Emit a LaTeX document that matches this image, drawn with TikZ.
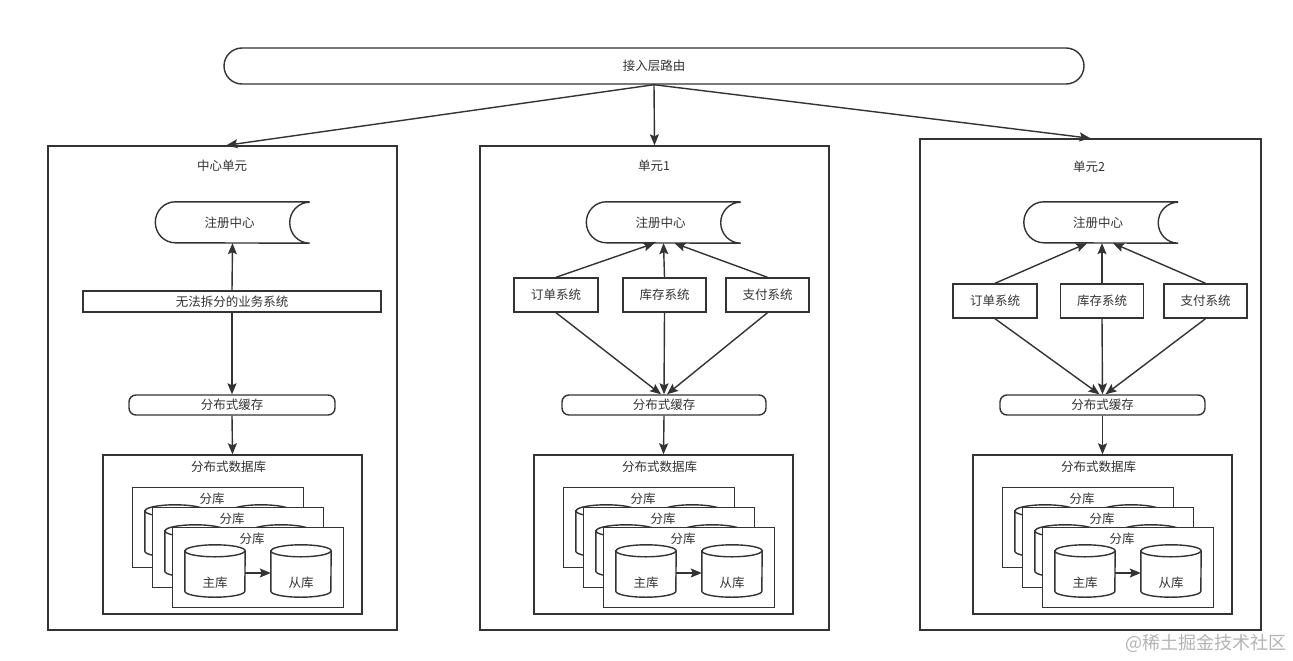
\documentclass[tikz,border=0pt]{standalone}
\usepackage{fontspec}
\setmainfont{Noto Sans CJK SC}
\usetikzlibrary{arrows.meta,calc}
\definecolor{ln}{HTML}{333333}
\definecolor{wm}{HTML}{B4B4B4}
\tikzset{
  base/.style={draw=ln, line width=1.4pt, fill=white, inner sep=0pt, font=\fontsize{12.5}{15}\selectfont, text=ln},
  box/.style={base, rectangle},
  rbox/.style={base, rectangle, rounded corners=7pt},
  sysbox/.style={box, minimum width=84pt, minimum height=34pt},
  regnode/.style={rectangle, inner sep=0pt, minimum width=154pt, minimum height=41pt, font=\fontsize{12.5}{15}\selectfont, text=ln},
  cylnode/.style={rectangle, inner sep=0pt, minimum width=60pt, minimum height=52pt},
  txt/.style={inner sep=0pt, font=\fontsize{12.5}{15}\selectfont, text=ln},
  cylst/.style={draw=ln, line width=1.4pt, fill=white},
  arr/.style={draw=ln, line width=1.4pt, -{Stealth[length=11pt,width=9pt,inset=2pt]}, fill=none},
}
\newcommand\regpath[1]{%
  \draw[draw=ln, line width=1.4pt] (#1.north east) -- ([xshift=20pt]#1.north west)
    arc[start angle=90,end angle=270,x radius=20pt,y radius=20.5pt] -- (#1.south east)
    arc[start angle=270,end angle=90,x radius=20pt,y radius=20.5pt];}
\newcommand\cylpath[1]{%
  \draw[cylst] ([yshift=-6pt]#1.north west) -- ([yshift=6pt]#1.south west)
    arc[start angle=180,end angle=360,x radius=30pt,y radius=6pt] -- ([yshift=-6pt]#1.north east)
    arc[start angle=0,end angle=180,x radius=30pt,y radius=6pt] -- cycle;
  \draw[draw=ln, line width=1.4pt] ([yshift=-6pt]#1.north west)
    arc[start angle=180,end angle=360,x radius=30pt,y radius=6pt];}
\newcommand\dbsection[2]{%
  \node[box, minimum width=259pt, minimum height=159pt] (db#2) at (#1,534.5) {};
  \node[txt] (dbt#2) at ($(#1,467)+(-4,0)$) {分布式数据库};
  \foreach \k in {0,1,2}{
    \pgfmathsetmacro\bx{#1-100.5+20*\k}
    \pgfmathsetmacro\by{487+20*\k}
    \node[box, minimum width=171pt, minimum height=80pt, anchor=north west] (fk#2\k) at (\bx,\by) {};
    \node[txt] (fkt#2\k) at ($(fk#2\k.north west)+(80,12)$) {分库};
    \node[cylnode] (ma#2\k) at ($(fk#2\k.north west)+(43,44)$) {};
    \cylpath{ma#2\k}
    \node[cylnode] (sl#2\k) at ($(fk#2\k.north west)+(129,44)$) {};
    \cylpath{sl#2\k}
    \draw[arr] ([yshift=-2pt]ma#2\k.east) -- ([yshift=-2pt]sl#2\k.west);
  }
  \node[txt] (mat#2) at ($(ma#22.center)+(0,12)$) {主库};
  \node[txt] (slt#2) at ($(sl#22.center)+(0,12)$) {从库};
}
\begin{document}
\begin{tikzpicture}[x=1pt,y=-1pt]
\useasboundingbox (0,0) rectangle (1293,661);
\fill[white] (0,0) rectangle (1293,661);

% top routing bar
\node[base, rounded corners=18pt, minimum width=860pt, minimum height=36pt] (top) at (654,66) {接入层路由};

% unit boxes
\node[box, minimum width=349pt, minimum height=484pt] (u0) at (222.5,388) {};
\node[box, minimum width=349pt, minimum height=484pt] (u1) at (654.5,388) {};
\node[box, minimum width=341pt, minimum height=491pt] (u2) at (1090.5,384.5) {};
\node[txt] (t0) at (222,166) {中心单元};
\node[txt] (t1) at (654,166) {单元1};
\node[txt] (t2) at (1089,167) {单元2};

\draw[arr] (top.south) -- ([xshift=4pt]u0.north);
\draw[arr] (top.south) -- (u1.north);
\draw[arr] (top.south) -- (u2.north);

% ---------- central unit ----------
\node[regnode] (reg0) at (232.5,222.5) {\hspace*{-6pt}注册中心};
\regpath{reg0}
\node[box, minimum width=298pt, minimum height=21pt] (biz0) at (232,301.5) {无法拆分的业务系统};
\node[rbox, minimum width=206pt, minimum height=20pt] (cache0) at (232,405) {分布式缓存};
\draw[arr] (biz0.north) -- (reg0.south);
\draw[arr] (biz0.south) -- (cache0.north);
\dbsection{232.5}{0}
\draw[arr] (cache0.south) -- (db0.north);

% ---------- unit 1 ----------
\node[regnode] (reg1) at (663.5,222.5) {\hspace*{-6pt}注册中心};
\regpath{reg1}
\node[sysbox] (o1) at (556,295) {订单系统};
\node[sysbox, minimum width=83pt] (s1) at (664.5,295) {库存系统};
\node[sysbox, minimum width=83pt] (p1) at (767.5,295) {支付系统};
\node[rbox, minimum width=204pt, minimum height=20pt] (cache1) at (664,405) {分布式缓存};
\draw[arr] (o1.north) -- ([xshift=-9pt]reg1.south);
\draw[arr] (s1.north) -- ([xshift=0pt]reg1.south);
\draw[arr] (p1.north) -- ([xshift=11pt]reg1.south);
\draw[arr] (o1.south) -- ([xshift=-3pt]cache1.north);
\draw[arr] (s1.south) -- ([xshift=0pt]cache1.north);
\draw[arr] (p1.south) -- ([xshift=3pt]cache1.north);
\dbsection{663.5}{1}
\draw[arr] (cache1.south) -- (db1.north);

% ---------- unit 2 ----------
\node[regnode] (reg2) at (1101,222.5) {\hspace*{-6pt}注册中心};
\regpath{reg2}
\node[sysbox] (o2) at (995,301) {订单系统};
\node[sysbox, minimum width=83pt] (s2) at (1102,301) {库存系统};
\node[sysbox, minimum width=83pt] (p2) at (1205.5,301) {支付系统};
\node[rbox, minimum width=205pt, minimum height=20pt] (cache2) at (1102.5,405) {分布式缓存};
\draw[arr] (o2.north) -- ([xshift=-14pt]reg2.south);
\draw[arr] (s2.north) -- ([xshift=1pt]reg2.south);
\draw[arr] (p2.north) -- ([xshift=12pt]reg2.south);
\draw[arr] (o2.south) -- ([xshift=-3pt]cache2.north);
\draw[arr] (s2.south) -- ([xshift=0pt]cache2.north);
\draw[arr] (p2.south) -- ([xshift=3pt]cache2.north);
\dbsection{1102.5}{2}
\draw[arr] (cache2.south) -- (db2.north);

% watermark
\node[inner sep=0pt, font=\fontsize{18}{20}\selectfont, text=wm] (wmk) at (1206,643) {@稀土掘金技术社区};
\end{tikzpicture}
\end{document}
